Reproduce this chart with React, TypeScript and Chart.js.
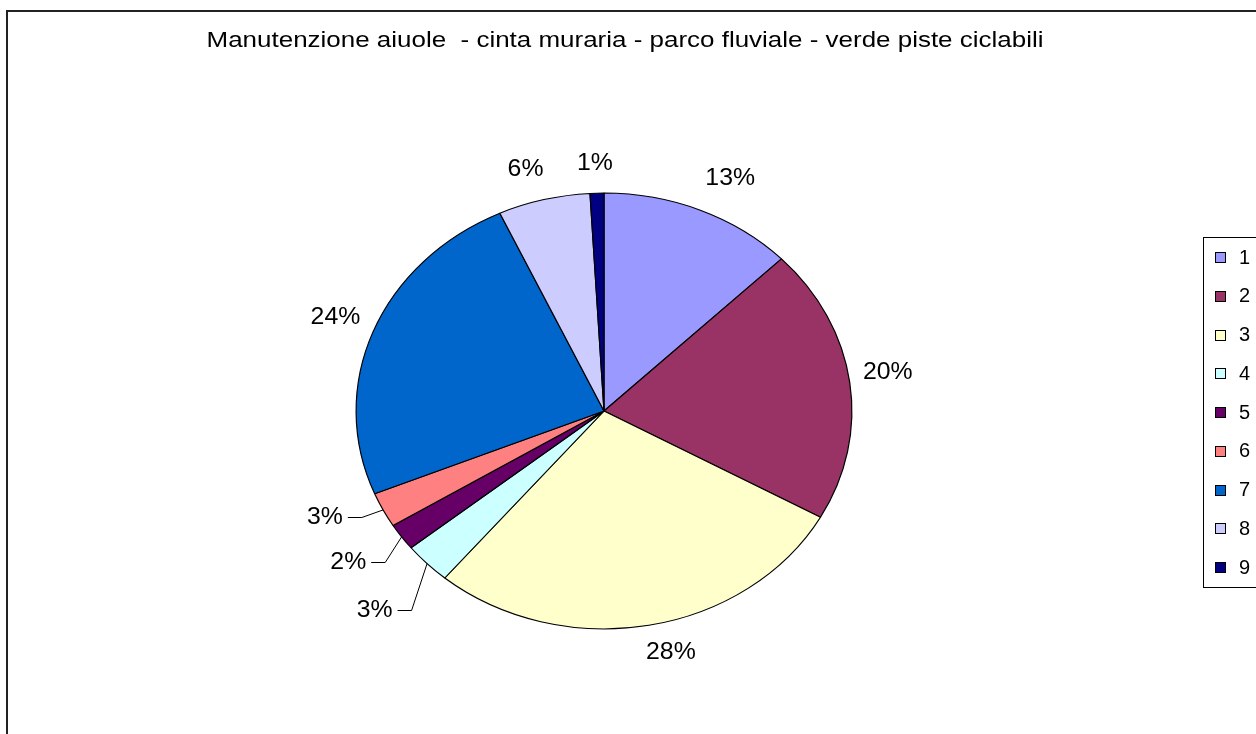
import React, { useEffect, useRef } from "react";
import { Chart, registerables } from "chart.js";
Chart.register(...registerables);

const TITLE = "Manutenzione aiuole  - cinta muraria - parco fluviale - verde piste ciclabili";
const categories = ["1", "2", "3", "4", "5", "6", "7", "8", "9"];
const values = [12.7, 20.4, 28.0, 3.1, 2.0, 2.6, 24.3, 6.0, 0.9];
const colors = ["#9999FF", "#993366", "#FFFFCC", "#CCFFFF", "#660066", "#FF8080", "#0066CC", "#CCCCFF", "#000080"];
// labels pulled aside with a leader line
const leader = [false, false, false, true, true, true, false, false, false];
const labelNudgeX = [15, 0, 15, -25, -22, -24, -2, -9, -1];
const labelNudgeY = [0, -5, -6, 23, 6, -8, -1, 3, 4];

const SQUASH = 0.879;
const FONT = '"Liberation Sans", Arial, sans-serif';
const LABEL_R = 1.155;

function stretchedText(ctx: CanvasRenderingContext2D, text: string, cx: number, y: number, sx: number) {
  const w = ctx.measureText(text).width;
  ctx.save();
  ctx.translate(cx, y);
  ctx.scale(sx, 1);
  ctx.textAlign = "center";
  ctx.fillText(text, 0, 0);
  ctx.restore();
  return w * sx;
}

const framePlugin = {
  id: "frame",
  beforeDraw(chart: any) {
    const ctx = chart.ctx;
    ctx.save();
    ctx.fillStyle = "#ffffff";
    ctx.fillRect(0, 0, chart.width, chart.height);
    ctx.strokeStyle = "#222222";
    ctx.lineWidth = 2;
    ctx.strokeRect(7, 11, 2000, 2000);
    ctx.fillStyle = "#000000";
    ctx.font = `22px ${FONT}`;
    ctx.textBaseline = "alphabetic";
    stretchedText(ctx, TITLE, 625, 47, 1.18);
    ctx.restore();
  },
};

const squashPlugin = {
  id: "squash",
  beforeDatasetsDraw(chart: any) {
    const arc = chart.getDatasetMeta(0).data[0];
    const ctx = chart.ctx;
    ctx.save();
    ctx.translate(arc.x, arc.y);
    ctx.scale(1, SQUASH);
    ctx.translate(-arc.x, -arc.y);
  },
  afterDatasetsDraw(chart: any) {
    chart.ctx.restore();
  },
};

const labelPlugin = {
  id: "labels",
  afterDraw(chart: any) {
    const ctx = chart.ctx;
    const ds = chart.data.datasets[0].data as number[];
    const total = ds.reduce((a, b) => a + b, 0);
    const arcs = chart.getDatasetMeta(0).data;
    ctx.save();
    ctx.font = `23px ${FONT}`;
    ctx.fillStyle = "#000000";
    ctx.textBaseline = "middle";
    arcs.forEach((arc: any, i: number) => {
      const mid = (arc.startAngle + arc.endAngle) / 2;
      const R = arc.outerRadius;
      const txt = Math.round((ds[i] / total) * 100) + "%";
      const tx = arc.x + Math.cos(mid) * R * LABEL_R + labelNudgeX[i];
      const ty = arc.y + Math.sin(mid) * R * LABEL_R * SQUASH + labelNudgeY[i];
      const w = stretchedText(ctx, txt, tx, ty, 1.08);
      if (leader[i]) {
        const right = tx + w / 2;
        const ex = arc.x + Math.cos(mid) * R;
        const ey = arc.y + Math.sin(mid) * R * SQUASH;
        ctx.strokeStyle = "#000000";
        ctx.lineWidth = 1;
        ctx.beginPath();
        ctx.moveTo(right + 5, Math.round(ty) + 0.5);
        ctx.lineTo(right + 19, Math.round(ty) + 0.5);
        ctx.lineTo(ex, ey);
        ctx.stroke();
      }
    });
    ctx.restore();
  },
};

const legendPlugin = {
  id: "boxLegend",
  afterDraw(chart: any) {
    const ctx = chart.ctx;
    const labels = chart.data.labels as string[];
    const bg = chart.data.datasets[0].backgroundColor as string[];
    ctx.save();
    ctx.strokeStyle = "#000000";
    ctx.lineWidth = 1;
    ctx.strokeRect(1203.5, 237.5, 200, 350);
    ctx.font = `20px ${FONT}`;
    ctx.textAlign = "left";
    ctx.textBaseline = "middle";
    labels.forEach((lab, i) => {
      const cy = 257 + i * 38.75;
      ctx.fillStyle = bg[i];
      ctx.fillRect(1215, Math.round(cy) - 5, 10, 10);
      ctx.strokeRect(1215.5, Math.round(cy) - 4.5, 10, 10);
      ctx.fillStyle = "#000000";
      ctx.fillText(lab, 1239, cy + 1);
    });
    ctx.restore();
  },
};

export default function App() {
  const ref = useRef<HTMLCanvasElement | null>(null);
  useEffect(() => {
    if (!ref.current) return;
    const chart = new Chart(ref.current, {
      type: "pie",
      data: {
        labels: categories,
        datasets: [
          {
            data: values,
            backgroundColor: colors,
            borderColor: "#000000",
            borderWidth: 1.2,
          },
        ],
      },
      options: {
        responsive: false,
        animation: false,
        devicePixelRatio: 1,
        layout: { padding: { left: 355.5, right: 403.5, top: 162.5, bottom: 74.5 } },
        plugins: {
          legend: { display: false },
          title: { display: false },
          tooltip: { enabled: false },
        },
      },
      plugins: [framePlugin, squashPlugin, labelPlugin, legendPlugin],
    });
    return () => chart.destroy();
  }, []);
  return (
    <div style={{ position: "fixed", left: 0, top: 0, width: 1256, height: 734, background: "#fff" }}>
      <canvas ref={ref} width={1256} height={734} style={{ display: "block", width: 1256, height: 734 }} />
    </div>
  );
}
